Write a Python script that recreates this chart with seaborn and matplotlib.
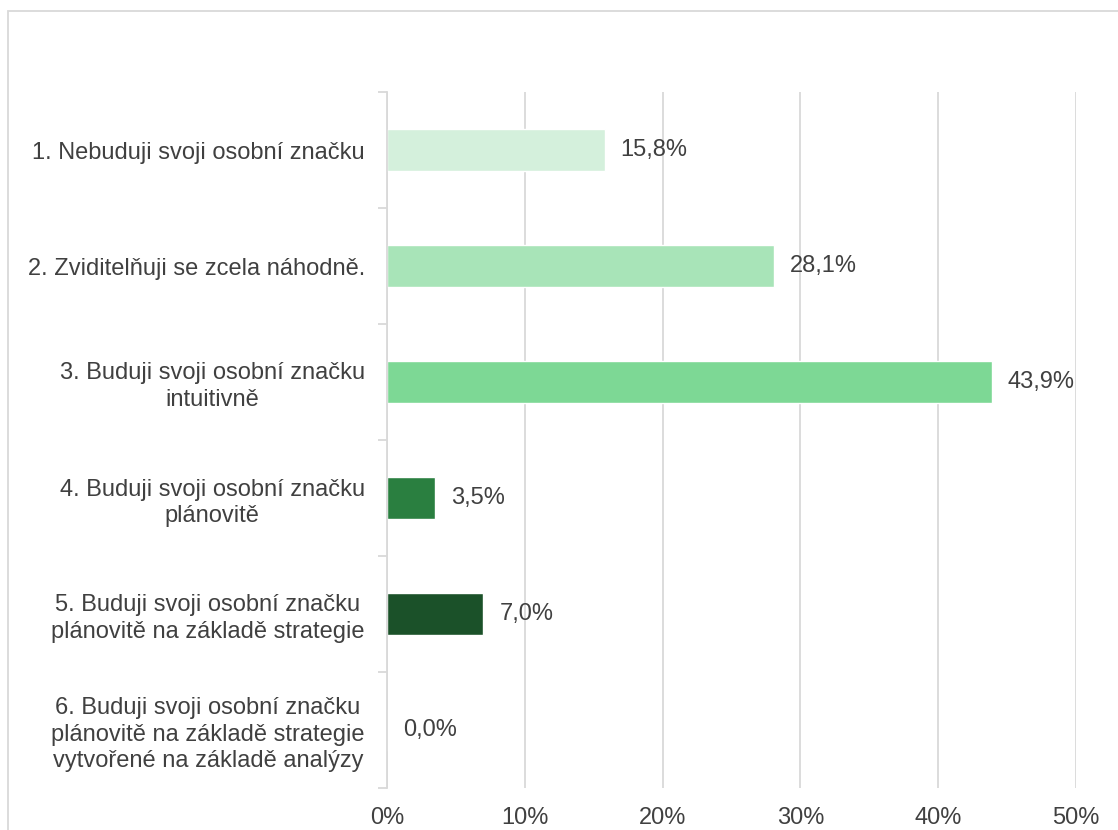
import matplotlib
matplotlib.use("Agg")
import matplotlib.pyplot as plt
import seaborn as sns
import pandas as pd
from matplotlib.ticker import FixedLocator, PercentFormatter
from matplotlib.patches import Rectangle

categories = [
    "1. Nebuduji svoji osobní značku",
    "2. Zviditelňuji se zcela náhodně.",
    "3. Buduji svoji osobní značku\nintuitivně",
    "4. Buduji svoji osobní značku\nplánovitě",
    "5. Buduji svoji osobní značku\nplánovitě na základě strategie",
    "6. Buduji svoji osobní značku\nplánovitě na základě strategie\nvytvořené na základě analýzy",
]
values = [15.8, 28.1, 43.9, 3.5, 7.0, 0.0]
value_labels = ["15,8%", "28,1%", "43,9%", "3,5%", "7,0%", "0,0%"]
x_ticks = [0, 10, 20, 30, 40, 50]
colors = ["#D4F0DC", "#A8E4B8", "#7DD895", "#2A7F40", "#1B5129", "#1B5129"]

sns.set_theme(style="white")
plt.rcParams["font.family"] = ["Liberation Sans", "DejaVu Sans"]
text_color = "#404040"
grid_color = "#D9D9D9"
fs = 17

df = pd.DataFrame({"cat": categories, "val": values})

fig = plt.figure(figsize=(11.18, 8.3), dpi=100)
ax = fig.add_axes([387 / 1118, 42 / 830, 689 / 1118, 696 / 830])

sns.barplot(data=df, y="cat", x="val", hue="cat", palette=colors, legend=False,
            orient="h", width=0.36, ax=ax, saturation=1)

ax.set_xlim(0, 50)
ax.set_ylim(5.5, -0.5)
ax.set_xlabel("")
ax.set_ylabel("")
ax.xaxis.set_major_locator(FixedLocator(x_ticks))
ax.xaxis.set_major_formatter(PercentFormatter(decimals=0))
ax.grid(axis="x", color=grid_color, linewidth=1.3)
ax.set_axisbelow(True)
for s in ["top", "right", "bottom"]:
    ax.spines[s].set_visible(False)
ax.spines["left"].set_color(grid_color)
ax.spines["left"].set_linewidth(1.3)

ax.tick_params(axis="x", length=0, pad=14, labelsize=fs, labelcolor=text_color)
ax.tick_params(axis="y", which="major", left=True, length=0, pad=16, labelsize=fs, labelcolor=text_color)
ax.set_yticks([i + 0.5 for i in range(-1, 6)], minor=True)
ax.tick_params(axis="y", which="minor", left=True, length=6.5, width=1.3, color=grid_color)
for lbl in ax.get_yticklabels():
    lbl.set_multialignment("center")
    lbl.set_linespacing(1.25)

for i, (v, t) in enumerate(zip(values, value_labels)):
    ax.annotate(t, xy=(v, i), xytext=(11.5, 0), textcoords="offset points",
                ha="left", va="center", fontsize=fs, color=text_color)

fig.patches.append(Rectangle((8 / 1118, -0.1), 1.2, (830 - 11) / 830 + 0.1,
                             transform=fig.transFigure, fill=False,
                             edgecolor=grid_color, linewidth=1.3, zorder=0))

fig.savefig("out.png", dpi=100)
